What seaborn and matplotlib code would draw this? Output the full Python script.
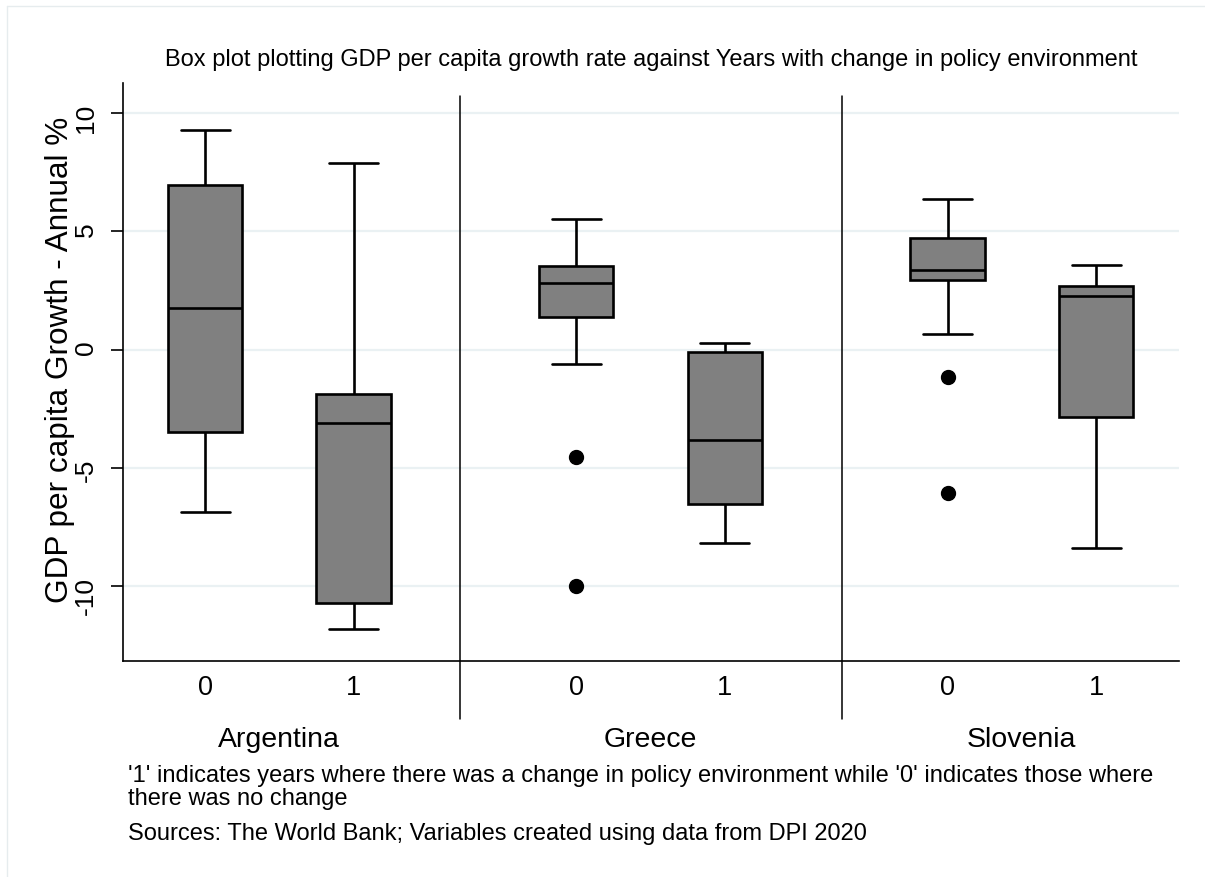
import pandas as pd
import matplotlib.pyplot as plt
import matplotlib.lines as mlines
import seaborn as sns

# GDP per capita growth (annual %) by country and policy-change flag
countries = ["Argentina", "Greece", "Slovenia"]
policy_levels = ["0", "1"]

argentina_0 = [-6.85, -5.2, -3.49, -1.2, 1.75, 4.3, 6.96, 8.1, 9.28]
argentina_1 = [-11.80, -11.2, -10.73, -6.5, -3.10, -2.4, -1.87, 3.2, 7.89]
greece_0 = [-9.99, -4.54, -0.59, 1.39, 2.0, 2.5, 2.82, 3.1, 3.4, 3.54, 4.2, 4.9, 5.54]
greece_1 = [-8.18, -7.4, -6.53, -5.1, -3.82, -1.6, -0.10, 0.1, 0.29]
slovenia_0 = [-6.05, -1.17, 0.65, 2.95, 3.05, 3.2, 3.37, 3.9, 4.4, 4.72, 5.3, 5.9, 6.36]
slovenia_1 = [-8.38, -4.9, -2.84, 0.5, 2.28, 2.5, 2.68, 3.1, 3.59]

groups = {
    ("Argentina", "0"): argentina_0,
    ("Argentina", "1"): argentina_1,
    ("Greece", "0"): greece_0,
    ("Greece", "1"): greece_1,
    ("Slovenia", "0"): slovenia_0,
    ("Slovenia", "1"): slovenia_1,
}
rows = []
for (country, policy), values in groups.items():
    for v in values:
        rows.append({"country": country, "policy": policy, "growth": v})
df = pd.DataFrame(rows)

title = "Box plot plotting GDP per capita growth rate against Years with change in policy environment"
ylabel = "GDP per capita Growth - Annual %"
note1 = "'1' indicates years where there was a change in policy environment while '0' indicates those where"
note2 = "there was no change"
source = "Sources: The World Bank; Variables created using data from DPI 2020"

sns.set_style("ticks")
plt.rcParams["font.family"] = ["Liberation Sans", "DejaVu Sans"]
plt.rcParams["text.color"] = "black"
plt.rcParams["axes.labelcolor"] = "black"

fig = plt.figure(figsize=(12.05, 8.77), dpi=100)
ax = fig.add_axes([0.10183, 0.24664, 0.8766, 0.65838])

sns.boxplot(
    data=df, x="country", y="growth", hue="policy",
    order=countries, hue_order=policy_levels,
    palette={"0": "#808080", "1": "#808080"}, saturation=1,
    width=0.8, gap=0.5, linecolor="black", linewidth=1.9,
    fliersize=10, flierprops=dict(marker="o", markerfacecolor="black", markeredgecolor="black"),
    legend=False, ax=ax,
)

# widen the whisker caps a bit (Stata style)
for line in ax.lines:
    xd, yd = line.get_xdata(), line.get_ydata()
    if len(xd) == 2 and yd[0] == yd[1] and 0 < abs(xd[1] - xd[0]) < 0.15:
        c = (xd[0] + xd[1]) / 2
        line.set_xdata([c - 0.066, c + 0.066])

ax.set_xlim(-0.4218, 2.4234)
ax.set_ylim(-13.16, 11.27)
ax.set_yticks([-10, -5, 0, 5, 10])
ax.set_yticklabels(["-10", "-5", "0", "5", "10"])
ax.grid(axis="y", color="#eaf1f3", linewidth=1.6)
ax.set_axisbelow(True)
sns.despine(ax=ax)
for s in ["left", "bottom"]:
    ax.spines[s].set_color("black")
    ax.spines[s].set_linewidth(1.2)

ax.tick_params(axis="y", labelrotation=90, length=8.6, width=1.2, pad=9,
               labelsize=19, colors="black")

xpos = [i + d for i in range(len(countries)) for d in (-0.2, 0.2)]
ax.set_xticks(xpos)
ax.set_xticklabels(policy_levels * len(countries))
ax.tick_params(axis="x", length=0, pad=10, labelsize=19.5, colors="black")
ax.set_xlabel("")

for i, name in enumerate(countries):
    ax.text(i, -0.137, name, transform=ax.get_xaxis_transform(),
            ha="center", va="center", fontsize=20.5, color="black")

for xs in (0.4875, 1.5149):
    ax.axvline(xs, ymin=-0.101, ymax=0.978, color="black", linewidth=1.1, clip_on=False)

ax.set_ylabel(ylabel, fontsize=22.7, color="black")
ax.yaxis.set_label_coords(-0.045, 0.521)
ax.set_title(title, fontsize=17, pad=12.5, color="black")

fig.text(128 / 1205, 1 - 782 / 877, note1, fontsize=17, va="baseline", color="black")
fig.text(128 / 1205, 1 - 805 / 877, note2, fontsize=17, va="baseline", color="black")
fig.text(128 / 1205, 1 - 840 / 877, source, fontsize=17, va="baseline", color="black")

# faint outer frame (top and left edges visible in the original)
fig.add_artist(mlines.Line2D([7 / 1205, 1], [1 - 6 / 877, 1 - 6 / 877], color="#e6ecee", linewidth=1))
fig.add_artist(mlines.Line2D([7 / 1205, 7 / 1205], [0, 1 - 6 / 877], color="#e6ecee", linewidth=1))

fig.savefig("out.png", dpi=100)
